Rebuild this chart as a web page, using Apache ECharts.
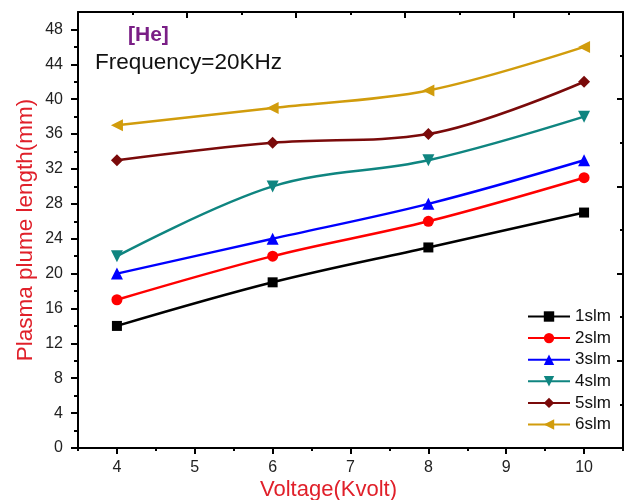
<!DOCTYPE html>
<html>
<head>
<meta charset="utf-8">
<script src="https://cdn.jsdelivr.net/npm/echarts@6/dist/echarts.min.js"></script>
<style>html,body{margin:0;padding:0;background:#fff;}#c{width:632px;height:500px;}</style>
</head>
<body>
<div id="c"></div>
<script>
// ---- data ----
var voltage = [4, 6, 8, 10];
var seriesNames = ['1slm', '2slm', '3slm', '4slm', '5slm', '6slm'];
var s1 = [14, 19, 23, 27];
var s2 = [17, 22, 26, 31];
var s3 = [20, 24, 28, 33];
var s4 = [22, 30, 33, 38];
var s5 = [33, 35, 36, 42];
var s6 = [37, 39, 41, 46];
var yTickLabels = [0, 4, 8, 12, 16, 20, 24, 28, 32, 36, 40, 44, 48];
var yMinorTicks = [2, 6, 10, 14, 18, 22, 26, 30, 34, 38, 42, 46];
var xTickLabels = [4, 5, 6, 7, 8, 9, 10];
var xMinorTicks = [3.5, 4.5, 5.5, 6.5, 7.5, 8.5, 9.5, 10.5];

var values = [s1, s2, s3, s4, s5, s6];
var colors = ['#000000', '#ff0000', '#0000ff', '#0f8580', '#7a0a0a', '#d19c0c'];
var symbols = ['rect', 'circle', 'triangle', 'triangle', 'diamond', 'triangle'];
var rotates = [0, 0, 0, 180, 0, 90];
var sizes = [10, 11, 12, 12, 12, 12];

var FONT = 'Liberation Sans';
var lineStyle = {color: '#000', width: 2};

var series = values.map(function (v, i) {
  return {
    name: seriesNames[i],
    type: 'line',
    xAxisIndex: 0, yAxisIndex: 0,
    smooth: 0.35,
    data: voltage.map(function (x, j) { return [x, v[j]]; }),
    symbol: symbols[i],
    symbolSize: sizes[i],
    symbolRotate: rotates[i],
    showAllSymbol: true,
    lineStyle: {color: colors[i], width: 2.5},
    itemStyle: {color: colors[i]},
    z: 10 + i
  };
});

var chart = echarts.init(document.getElementById('c'), null, {renderer: 'canvas'});
chart.setOption({
  animation: false,
  backgroundColor: '#fff',
  grid: {left: 78, right: 9, top: 12, bottom: 52, containLabel: false, outerBoundsMode: 'none'},
  title: [
    {text: '[He]', left: 123, top: 20, textStyle: {fontFamily: FONT, fontSize: 21, fontWeight: 'bold', color: '#7a1f86'}},
    {text: 'Frequency=20KHz', left: 90, top: 46, textStyle: {fontFamily: FONT, fontSize: 22.5, fontWeight: 'normal', color: '#111'}}
  ],
  legend: {
    orient: 'vertical', left: 522, top: 303,
    itemWidth: 42, itemHeight: 13, itemGap: 4.6,
    textStyle: {fontFamily: FONT, fontSize: 17, color: '#111'},
    data: seriesNames
  },
  xAxis: [
    {
      type: 'value', position: 'bottom', min: 3.5, max: 10.5,
      name: 'Voltage(Kvolt)', nameLocation: 'middle', nameGap: 31, nameMoveOverlap: false,
      nameTextStyle: {fontFamily: FONT, fontSize: 22, color: '#e0202a', padding: [0, 44, 0, 0]},
      axisLine: {show: true, onZero: false, lineStyle: lineStyle},
      axisTick: {show: true, inside: false, length: 6, customValues: xTickLabels, lineStyle: lineStyle},
      axisLabel: {show: true, margin: 12, customValues: xTickLabels, fontFamily: FONT, fontSize: 16, color: '#222'},
      splitLine: {show: false}
    },
    {
      type: 'value', position: 'bottom', min: 3.5, max: 10.5,
      axisLine: {show: false, onZero: false},
      axisTick: {show: true, inside: false, length: 3, customValues: xMinorTicks, lineStyle: lineStyle},
      axisLabel: {show: false},
      splitLine: {show: false}
    },
    {
      type: 'value', position: 'top', min: 0, max: 10, interval: 2,
      axisLine: {show: true, onZero: false, lineStyle: lineStyle},
      axisTick: {show: true, inside: true, length: 6, lineStyle: lineStyle},
      minorTick: {show: true, splitNumber: 2, length: 3, lineStyle: {color: '#000', width: 2}},
      axisLabel: {show: false},
      splitLine: {show: false}
    }
  ],
  yAxis: [
    {
      type: 'value', position: 'left', min: 0, max: 50,
      name: 'Plasma plume length(mm)', nameLocation: 'middle', nameGap: 41, nameRotate: 90, nameMoveOverlap: false,
      nameTextStyle: {fontFamily: FONT, fontSize: 22.5, color: '#e0202a'},
      axisLine: {show: true, onZero: false, lineStyle: lineStyle},
      axisTick: {show: true, inside: false, length: 7, customValues: yTickLabels, lineStyle: lineStyle},
      axisLabel: {show: true, margin: 15, customValues: yTickLabels, fontFamily: FONT, fontSize: 16, color: '#222'},
      splitLine: {show: false}
    },
    {
      type: 'value', position: 'left', min: 0, max: 50,
      axisLine: {show: false, onZero: false},
      axisTick: {show: true, inside: false, length: 4, customValues: yMinorTicks, lineStyle: lineStyle},
      axisLabel: {show: false},
      splitLine: {show: false}
    },
    {
      type: 'value', position: 'right', min: 0, max: 10, interval: 2,
      axisLine: {show: true, onZero: false, lineStyle: lineStyle},
      axisTick: {show: true, inside: true, length: 6, lineStyle: lineStyle},
      minorTick: {show: true, splitNumber: 2, length: 3, lineStyle: {color: '#000', width: 2}},
      axisLabel: {show: false},
      splitLine: {show: false}
    }
  ],
  series: series
});
</script>
</body>
</html>
